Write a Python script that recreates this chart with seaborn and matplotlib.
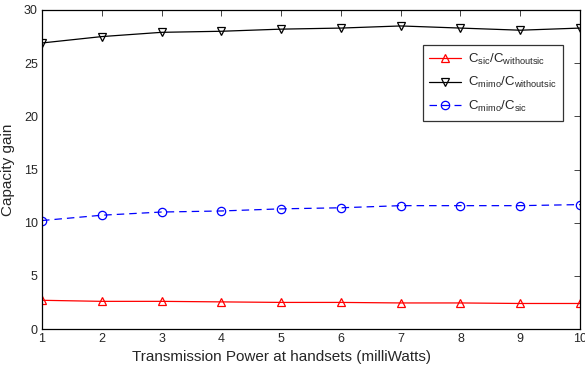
import numpy as np
import pandas as pd
import matplotlib
matplotlib.use("Agg")
import matplotlib.pyplot as plt
import seaborn as sns

# Values
power = [1, 2, 3, 4, 5, 6, 7, 8, 9, 10]
sic_gain = [2.7, 2.6, 2.6, 2.55, 2.5, 2.5, 2.45, 2.45, 2.4, 2.4]
mimo_gain = [26.9, 27.5, 27.9, 28.0, 28.2, 28.3, 28.5, 28.3, 28.1, 28.3]
mimo_sic_gain = [10.2, 10.7, 11.0, 11.1, 11.3, 11.4, 11.6, 11.6, 11.6, 11.7]

sns.set_style("white")
plt.rcParams['font.family'] = ['Liberation Sans', 'DejaVu Sans']
plt.rcParams['mathtext.fontset'] = 'custom'
plt.rcParams['mathtext.rm'] = 'Liberation Sans'
plt.rcParams['mathtext.it'] = 'Liberation Sans'

fig = plt.figure(figsize=(5.85, 3.69), dpi=100)
ax = fig.add_axes([42 / 585, 1 - 329 / 369, 538 / 585, 319 / 369])

sns.lineplot(x=power, y=sic_gain, ax=ax, color='red', lw=0.9, marker='^',
             markersize=6, markerfacecolor='none', markeredgecolor='red',
             markeredgewidth=0.9,
             label=r'$\mathrm{C_{sic}/C_{withoutsic}}$')
sns.lineplot(x=power, y=mimo_gain, ax=ax, color='black', lw=0.9, marker='v',
             markersize=6, markerfacecolor='none', markeredgecolor='black',
             markeredgewidth=0.9,
             label=r'$\mathrm{C_{mimo}/C_{withoutsic}}$')
sns.lineplot(x=power, y=mimo_sic_gain, ax=ax, color='blue', lw=0.9, marker='o',
             markersize=6, markerfacecolor='none', markeredgecolor='blue',
             markeredgewidth=0.9, linestyle=(0, (6, 4)),
             label=r'$\mathrm{C_{mimo}/C_{sic}}$')

ax.set_xlim(1, 10)
ax.set_ylim(0, 30)
ax.set_xticks(range(1, 11))
ax.set_yticks(range(0, 31, 5))
ax.tick_params(direction='in', top=True, right=True, length=4, labelsize=9,
               width=0.6, pad=3)
for s in ax.spines.values():
    s.set_color('black')
    s.set_linewidth(0.9)

ax.set_xlabel('Transmission Power at handsets (milliWatts)', fontsize=11)
ax.set_ylabel('Capacity gain', fontsize=11)
ax.xaxis.set_label_coords(0.446, -0.065)
ax.yaxis.set_label_coords(-0.05, 0.5)

leg = ax.legend(loc='upper right', bbox_to_anchor=(0.968, 0.89), fontsize=9.5,
                frameon=True, fancybox=False, edgecolor='black',
                handlelength=2.4, handletextpad=0.5, borderpad=0.5,
                labelspacing=0.65, borderaxespad=0)
leg.get_frame().set_linewidth(0.9)

fig.savefig('out.png', dpi=100)
